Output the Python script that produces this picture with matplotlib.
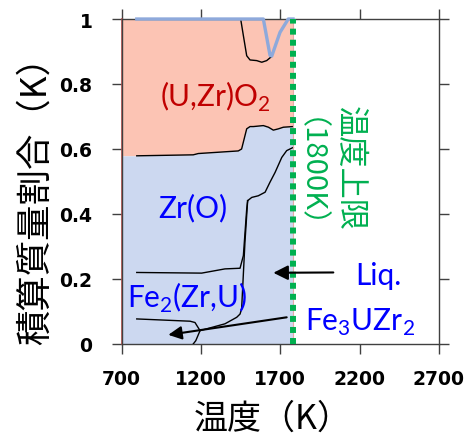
import matplotlib
matplotlib.use("Agg")
import matplotlib.pyplot as plt

plt.rcParams['font.family'] = ['Lato', 'Noto Sans CJK JP', 'DejaVu Sans']
plt.rcParams['mathtext.fontset'] = 'custom'
plt.rcParams['mathtext.rm'] = 'Lato'

# ---- data (temperature in K, cumulative mass fraction) ----
fill_T = [700, 795, 1151, 1183, 1435, 1456, 1488, 1509, 1530, 1593, 1625, 1656, 1688, 1719, 1780]
boundary = [0.579, 0.579, 0.582, 0.586, 0.594, 0.600, 0.662, 0.669, 0.669, 0.672, 0.667, 0.658, 0.662, 0.667, 0.669]

top_blue_T = [795, 1593, 1635, 1646, 1698, 1750, 1780]
top_blue_v = [1.0, 1.0, 0.888, 0.886, 0.959, 1.0, 1.0]

top_black_T = [1450, 1467, 1488, 1509, 1551, 1583, 1614, 1646]
top_black_v = [1.0, 0.949, 0.887, 0.874, 0.872, 0.867, 0.872, 0.885]

upper_T = [1494, 1520, 1561, 1604, 1635, 1667, 1709, 1740, 1782]
upper_v = [0.441, 0.451, 0.456, 0.467, 0.498, 0.528, 0.574, 0.595, 0.605]

lineA_T = [795, 1204, 1351, 1446, 1467, 1488, 1494]
lineA_v = [0.220, 0.218, 0.231, 0.233, 0.272, 0.415, 0.441]

lineC_T = [1194, 1351, 1425, 1446, 1456, 1477, 1494]
lineC_v = [0.041, 0.062, 0.082, 0.092, 0.108, 0.313, 0.441]

lineB_T = [795, 1131, 1162, 1194, 1167, 1151]
lineB_v = [0.077, 0.070, 0.066, 0.041, 0.010, 0.0]

limit_T = 1780
x_ticks = [700, 1200, 1700, 2200, 2700]
y_ticks = [0, 0.2, 0.4, 0.6, 0.8, 1.0]
y_ticklabels = ['0', '0.2', '0.4', '0.6', '0.8', '1']

fig = plt.figure(figsize=(4.68, 4.35), dpi=100)
ax = fig.add_axes([0.260, 0.207, 0.678, 0.747])

pink = '#FCC4B4'
blue = '#CCD8F0'
ax.fill_between(fill_T, boundary, 1.0, color=pink, lw=0, zorder=1)
ax.fill_between(fill_T, 0, boundary, color=blue, lw=0, zorder=1)
ax.plot([700, 700], [0, 1], color='#C0504D', lw=1.2, zorder=2, clip_on=False)

ax.plot(fill_T[1:], boundary[1:], color='black', lw=1.0, zorder=3)
ax.plot(top_black_T, top_black_v, color='black', lw=1.0, zorder=3)
ax.plot(upper_T, upper_v, color='black', lw=1.0, zorder=3)
ax.plot(lineA_T, lineA_v, color='black', lw=1.0, zorder=3)
ax.plot(lineC_T, lineC_v, color='black', lw=1.0, zorder=3)
ax.plot(lineB_T, lineB_v, color='black', lw=1.0, zorder=3)
ax.plot(top_blue_T, top_blue_v, color='#8EA9DB', lw=2.4, zorder=4, clip_on=False)

ax.plot([limit_T, limit_T], [0, 1], color='#E8A8A8', lw=0.8, zorder=4)
ax.plot([limit_T, limit_T], [0, 1], color='#00B050', lw=4.3,
        linestyle=(0, (1, 0.85)), dash_capstyle='butt', zorder=5, clip_on=False)

ax.set_xlim(700, 2700)
ax.set_ylim(0, 1)
ax.set_xticks(x_ticks)
ax.set_xticklabels([str(t) for t in x_ticks])
ax.set_yticks(y_ticks)
ax.set_yticklabels(y_ticklabels)
ax.tick_params(axis='both', which='major', direction='out', length=7, width=1,
               color='#404040', top=True, right=True)
ax.tick_params(axis='y', pad=14)
ax.tick_params(axis='x', pad=11)
for lab in ax.get_xticklabels() + ax.get_yticklabels():
    lab.set_fontfamily('DejaVu Sans')
    lab.set_fontweight('bold')
    lab.set_fontsize(13.5)
for s in ax.spines.values():
    s.set_color('#404040')
    s.set_linewidth(1.0)

cjk = ['Noto Sans CJK JP', 'DejaVu Sans']
ax.set_xlabel('温度（K）', fontsize=24.5, family=cjk, labelpad=9)
ax.xaxis.label.set_x(0.475)
ax.set_ylabel('積算質量割合（K）', fontsize=25.5, family=cjk, labelpad=4)
ax.yaxis.label.set_y(0.47)

fs = 21.5
ax.text(1288, 0.763, '(U,Zr)O$_2$', color='#C00000', fontsize=fs, ha='center', va='center', zorder=6)
ax.text(1150, 0.422, 'Zr(O)', color='#0000FF', fontsize=fs, ha='center', va='center', zorder=6)
ax.text(1112, 0.145, 'Fe$_2$(Zr,U)', color='#0000FF', fontsize=fs, ha='center', va='center', zorder=6)
ax.text(2316, 0.212, 'Liq.', color='#0000FF', fontsize=fs, ha='center', va='center', zorder=6)
ax.text(2203, 0.068, 'Fe$_3$UZr$_2$', color='#0000FF', fontsize=fs, ha='center', va='center', zorder=6)

# vertical green captions (positions compensate the ink offset of rotated CJK text)
ax.text(2140, 0.735, '温度上限', color='#00B050', fontsize=22.5, family='Noto Sans CJK JP',
        rotation=-90, rotation_mode='anchor', ha='left', va='center', zorder=6)
ax.text(1786, 0.700, '（1800K）', color='#00B050', fontsize=21, family='Noto Sans CJK JP',
        rotation=-90, rotation_mode='anchor', ha='left', va='center', zorder=6)

ax.annotate('', xy=(1656, 0.219), xytext=(2034, 0.22),
            arrowprops=dict(arrowstyle='-|>', mutation_scale=22, lw=1.5, color='black',
                            shrinkA=0, shrinkB=0), zorder=7)
ax.annotate('', xy=(994, 0.028), xytext=(1740, 0.082),
            arrowprops=dict(arrowstyle='-|>', mutation_scale=20, lw=1.5, color='black',
                            shrinkA=0, shrinkB=0), zorder=7)

fig.savefig('out.png', dpi=100)
